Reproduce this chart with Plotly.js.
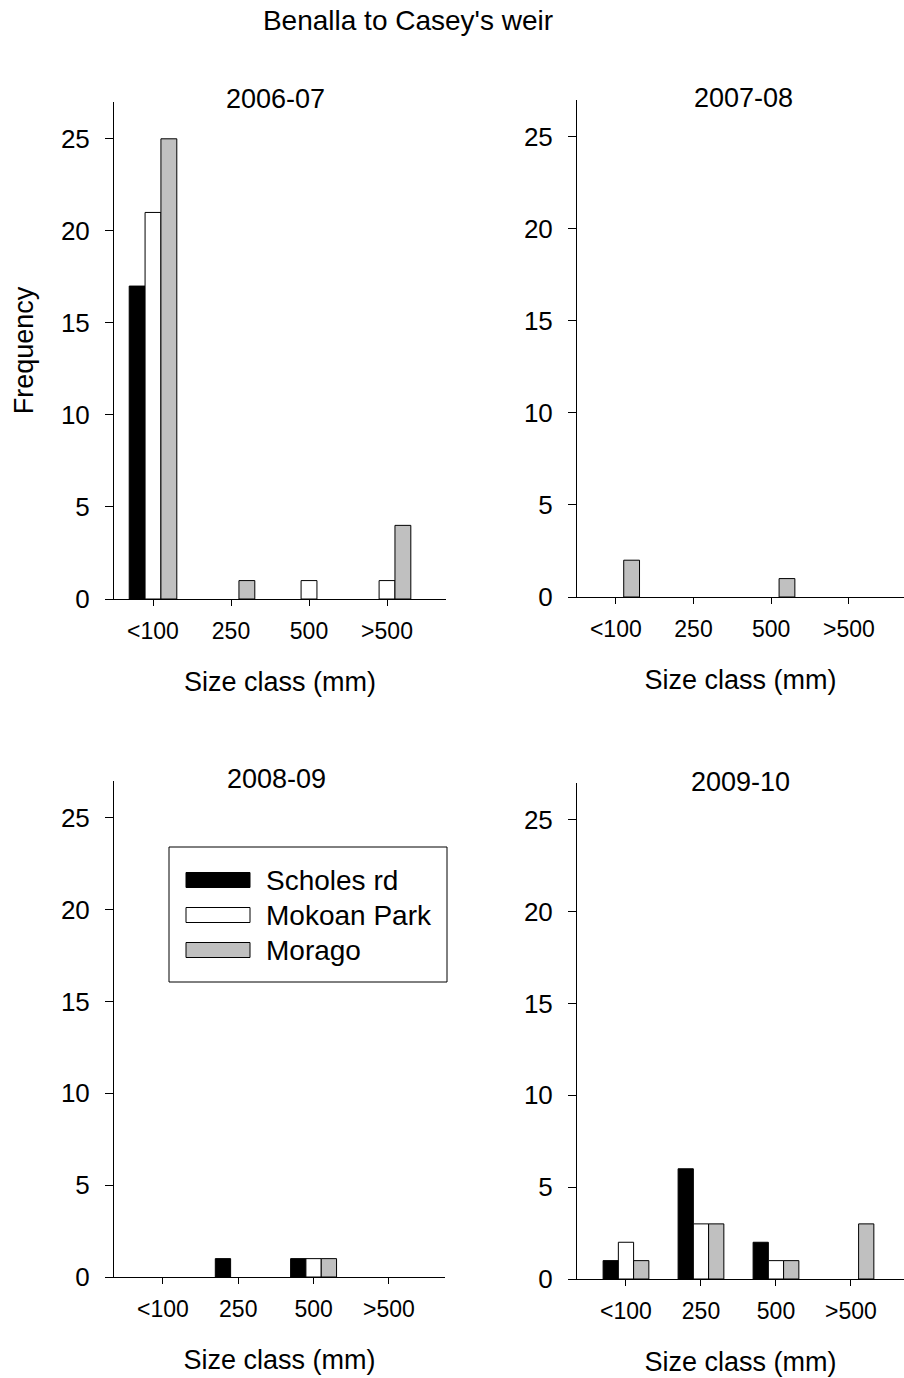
<!DOCTYPE html>
<html><head><meta charset="utf-8">
<script src="https://cdn.plot.ly/plotly-3.0.1.min.js"></script>
<style>html,body{margin:0;padding:0;background:#fff}#chart{width:904px;height:1378px}</style>
</head><body><div id="chart"></div>
<script>
// ---- data ----
const sizeClasses = ["<100", "250", "500", ">500"];
const siteNames = ["Scholes rd", "Mokoan Park", "Morago"];
const seasons = ["2006-07", "2007-08", "2008-09", "2009-10"];
const scholes_2006 = [17, 0, 0, 0];
const mokoan_2006  = [21, 0, 1, 1];
const morago_2006  = [25, 1, 0, 4];
const scholes_2007 = [0, 0, 0, 0];
const mokoan_2007  = [0, 0, 0, 0];
const morago_2007  = [2, 0, 1, 0];
const scholes_2008 = [0, 1, 1, 0];
const mokoan_2008  = [0, 0, 1, 0];
const morago_2008  = [0, 0, 1, 0];
const scholes_2009 = [1, 6, 2, 0];
const mokoan_2009  = [2, 3, 1, 0];
const morago_2009  = [1, 3, 1, 3];
const yTicks = [0, 5, 10, 15, 20, 25];

const seasonData = [
  [scholes_2006, mokoan_2006, morago_2006],
  [scholes_2007, mokoan_2007, morago_2007],
  [scholes_2008, mokoan_2008, morago_2008],
  [scholes_2009, mokoan_2009, morago_2009]
];
const siteColors = ["#000000", "#ffffff", "#c0c0c0"];

// ---- layout geometry (pixels) ----
const W = 904, H = 1378;
const fx = v => v / W;
const fy = v => 1 - v / H;
const FONT = "Liberation Sans, Arial, sans-serif";

const panels = [
  {xd: [114, 446], yd: [599, 102], xr: [-0.5, 3.756], title: [275, 99]},
  {xd: [577, 904], yd: [597, 100], xr: [-0.5, 3.71], title: [743, 98]},
  {xd: [114, 445], yd: [1277, 781], xr: [-0.65, 3.745], title: [276, 779]},
  {xd: [577, 904], yd: [1279, 783], xr: [-0.653, 3.707], title: [740, 782]}
];

const traces = [];
const layout = {
  width: W, height: H,
  margin: {l: 0, r: 0, t: 0, b: 0},
  paper_bgcolor: "#fff", plot_bgcolor: "rgba(0,0,0,0)",
  font: {family: FONT, color: "#000"},
  barmode: "group", bargap: 0.39, bargroupgap: 0,
  showlegend: false,
  title: {text: "Benalla to Casey's weir", font: {size: 28, family: FONT, color: "#000"},
          x: 408 / W, xanchor: "center", xref: "paper", yref: "container", y: fy(20), yanchor: "middle"},
  annotations: [], shapes: []
};

panels.forEach((p, i) => {
  const n = i === 0 ? "" : String(i + 1);
  siteNames.forEach((s, j) => {
    const vals = seasonData[i][j];
    traces.push({
      type: "bar", name: s, x: sizeClasses, y: vals,
      xaxis: "x" + n, yaxis: "y" + n,
      marker: {color: siteColors[j], line: {color: "#000", width: vals.map(v => v > 0 ? 1 : 0)}},
      hovertemplate: seasons[i] + " " + s + ": %{y}<extra></extra>"
    });
  });
  layout["xaxis" + n] = {
    domain: [fx(p.xd[0]), fx(p.xd[1])], range: p.xr, type: "category",
    anchor: "y" + n, showline: true, linecolor: "#000", linewidth: 1,
    ticks: "outside", ticklen: 6, tickcolor: "#000", tickwidth: 1,
    tickfont: {size: 23, family: FONT, color: "#000"}, ticklabelstandoff: 5,
    showgrid: false, zeroline: false, fixedrange: true,
    title: {text: "Size class (mm)", font: {size: 27, family: FONT, color: "#000"}, standoff: 29}
  };
  layout["yaxis" + n] = {
    domain: [fy(p.yd[0]), fy(p.yd[1])], range: [0, 27],
    anchor: "x" + n, showline: true, linecolor: "#000", linewidth: 1,
    tickmode: "array", tickvals: yTicks,
    ticks: "outside", ticklen: 8, tickcolor: "#000", tickwidth: 1,
    tickfont: {size: 26, family: FONT, color: "#000"}, ticklabelstandoff: 10,
    showgrid: false, zeroline: false, fixedrange: true,
    title: i === 0 ? {text: "Frequency", font: {size: 27, family: FONT, color: "#000"}, standoff: 19} : {text: ""}
  };
  layout.annotations.push({
    text: seasons[i], xref: "paper", yref: "paper", x: fx(p.title[0]), y: fy(p.title[1]),
    xanchor: "center", yanchor: "middle", showarrow: false,
    font: {size: 27, family: FONT, color: "#000"}
  });
});

// custom legend (box, swatches, labels)
const legBox = {x0: 169, x1: 447, y0: 847, y1: 982};
layout.shapes.push({type: "rect", xref: "paper", yref: "paper", x0: fx(legBox.x0), x1: fx(legBox.x1),
  y0: fy(legBox.y1), y1: fy(legBox.y0), line: {color: "#000", width: 1}, fillcolor: "#fff", layer: "above"});
const rowCenters = [880, 915, 950];
siteNames.forEach((s, j) => {
  const c = rowCenters[j];
  layout.shapes.push({type: "rect", xref: "paper", yref: "paper", x0: fx(186), x1: fx(250),
    y0: fy(c + 7.5), y1: fy(c - 7.5), line: {color: "#000", width: 1}, fillcolor: siteColors[j], layer: "above"});
  layout.annotations.push({text: s, xref: "paper", yref: "paper", x: fx(264), y: fy(c),
    xanchor: "left", yanchor: "middle", showarrow: false, font: {size: 28, family: FONT, color: "#000"}});
});

Plotly.newPlot("chart", traces, layout, {displayModeBar: false, staticPlot: true});
</script></body></html>
